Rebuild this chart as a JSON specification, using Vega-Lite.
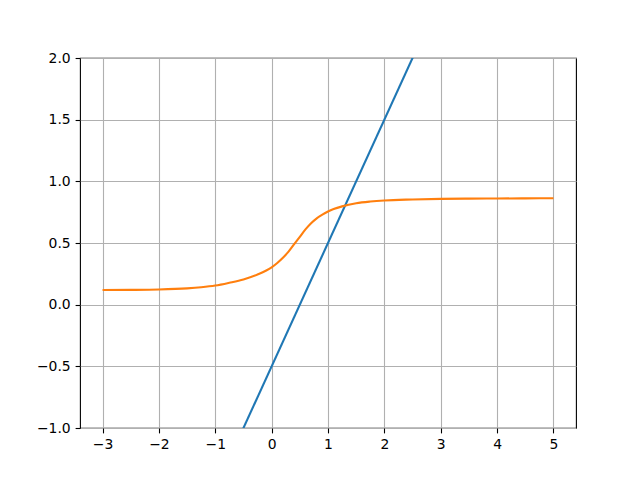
{
  "$schema": "https://vega.github.io/schema/vega-lite/v6.json",
  "width": 496,
  "height": 370,
  "autosize": {"type": "none"},
  "padding": {"left": 80, "top": 58, "right": 64, "bottom": 52},
  "background": "white",
  "config": {
    "view": {"stroke": "black", "strokeWidth": 1.1},
    "font": "DejaVu Sans",
    "axis": {
      "domain": false,
      "grid": true,
      "gridColor": "#b0b0b0",
      "gridWidth": 1.1,
      "tickColor": "black",
      "tickSize": 4.9,
      "tickWidth": 1.1,
      "labelFont": "DejaVu Sans",
      "labelFontSize": 13.9,
      "labelColor": "black",
      "labelPadding": 4.9,
      "title": null
    }
  },
  "data": {
    "values": [
      {"x": -3, "y": -3.5, "s": "a"},
      {"x": 5, "y": 4.5, "s": "a"},
      {"x": -3, "y": 0.119, "s": "b"},
      {"x": -2.5, "y": 0.120, "s": "b"},
      {"x": -2, "y": 0.123, "s": "b"},
      {"x": -1.5, "y": 0.132, "s": "b"},
      {"x": -1.25, "y": 0.141, "s": "b"},
      {"x": -1, "y": 0.155, "s": "b"},
      {"x": -0.75, "y": 0.178, "s": "b"},
      {"x": -0.5, "y": 0.205, "s": "b"},
      {"x": -0.25, "y": 0.245, "s": "b"},
      {"x": 0, "y": 0.303, "s": "b"},
      {"x": 0.1, "y": 0.338, "s": "b"},
      {"x": 0.2, "y": 0.38, "s": "b"},
      {"x": 0.3, "y": 0.43, "s": "b"},
      {"x": 0.4, "y": 0.49, "s": "b"},
      {"x": 0.5, "y": 0.55, "s": "b"},
      {"x": 0.6, "y": 0.61, "s": "b"},
      {"x": 0.7, "y": 0.66, "s": "b"},
      {"x": 0.8, "y": 0.70, "s": "b"},
      {"x": 0.9, "y": 0.73, "s": "b"},
      {"x": 1.0, "y": 0.755, "s": "b"},
      {"x": 1.1, "y": 0.775, "s": "b"},
      {"x": 1.25, "y": 0.797, "s": "b"},
      {"x": 1.5, "y": 0.822, "s": "b"},
      {"x": 1.75, "y": 0.836, "s": "b"},
      {"x": 2, "y": 0.845, "s": "b"},
      {"x": 2.5, "y": 0.853, "s": "b"},
      {"x": 3, "y": 0.858, "s": "b"},
      {"x": 3.5, "y": 0.860, "s": "b"},
      {"x": 4, "y": 0.861, "s": "b"},
      {"x": 4.5, "y": 0.862, "s": "b"},
      {"x": 5, "y": 0.863, "s": "b"}
    ]
  },
  "mark": {"type": "line", "clip": true, "strokeWidth": 2.1, "interpolate": "monotone"},
  "encoding": {
    "x": {
      "field": "x",
      "type": "quantitative",
      "scale": {"domain": [-3.4, 5.4], "nice": false, "zero": false},
      "axis": {"values": [-3, -2, -1, 0, 1, 2, 3, 4, 5], "labelExpr": "replace(format(datum.value, 'd'), '-', '−')"}
    },
    "y": {
      "field": "y",
      "type": "quantitative",
      "scale": {"domain": [-1, 2], "nice": false, "zero": false},
      "axis": {"values": [-1, -0.5, 0, 0.5, 1, 1.5, 2], "labelExpr": "replace(format(datum.value, '.1f'), '-', '−')"}
    },
    "color": {
      "field": "s",
      "type": "nominal",
      "scale": {"domain": ["a", "b"], "range": ["#1f77b4", "#ff7f0e"]},
      "legend": null
    }
  }
}
